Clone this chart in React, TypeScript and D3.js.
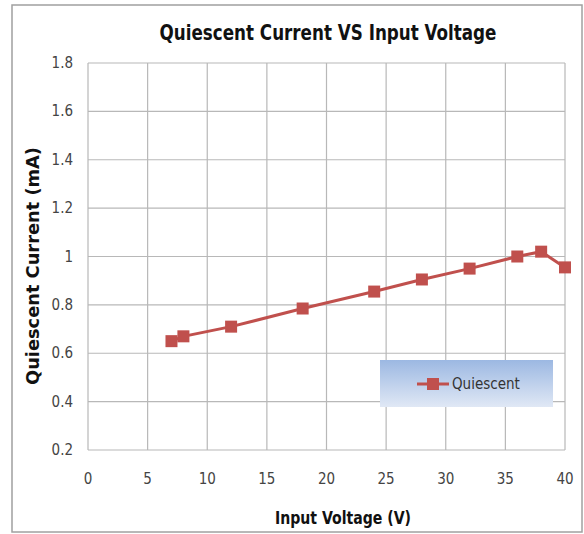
import React from 'react';
import * as d3 from 'd3';

// input voltage (V) and quiescent current (mA)
const voltage = [7, 8, 12, 18, 24, 28, 32, 36, 38, 40];
const current = [0.65, 0.67, 0.71, 0.785, 0.855, 0.905, 0.95, 1.0, 1.02, 0.955];
const xTicks = [0, 5, 10, 15, 20, 25, 30, 35, 40];
const yTicks = [0.2, 0.4, 0.6, 0.8, 1, 1.2, 1.4, 1.6, 1.8];
const seriesName = 'Quiescent';

const W = 584;
const H = 534;
const font = '"Liberation Sans Narrow", "DejaVu Sans Condensed", "Noto Sans", sans-serif';
const red = '#c0504d';

export default function App() {
  const x = d3.scaleLinear().domain([0, 40]).range([88, 565]);
  const y = d3.scaleLinear().domain([0.2, 1.8]).range([450, 63]);

  const line = d3.line<number>()
    .x((d, i) => x(voltage[i]))
    .y(d => y(d));

  const ms = 12;

  return (
    <svg width={W} height={H} style={{ position: 'absolute', left: 0, top: 0 }}>
      <defs>
        <linearGradient id="legendFill" x1="0" y1="0" x2="0" y2="1">
          <stop offset="0%" stopColor="#9cb8e2" />
          <stop offset="100%" stopColor="#e0e8f5" />
        </linearGradient>
      </defs>
      <rect x={0} y={0} width={W} height={H} fill="#fff" />
      <rect x={12} y={5} width={570} height={527} fill="#fff" stroke="#a0a0a0" strokeWidth={1.5} />

      <text x={328} y={40} textAnchor="middle" fontFamily={font} fontWeight="bold"
        fontSize={21} fill="#111" textLength={337} lengthAdjust="spacingAndGlyphs">
        Quiescent Current VS Input Voltage
      </text>

      {/* grid */}
      {yTicks.map(t => (
        <line key={'gy' + t} x1={x(0)} x2={x(40)} y1={y(t)} y2={y(t)} stroke="#b8b8b8" strokeWidth={1.2} />
      ))}
      {xTicks.map(t => (
        <line key={'gx' + t} x1={x(t)} x2={x(t)} y1={y(0.2)} y2={y(1.8)} stroke="#b8b8b8" strokeWidth={1.2} />
      ))}

      {/* tick labels */}
      {yTicks.map(t => (
        <text key={'ty' + t} x={73} y={y(t) + 5} textAnchor="end" fontFamily={font}
          fontSize={15} fill="#444">
          {d3.format('~g')(t)}
        </text>
      ))}
      {xTicks.map(t => (
        <text key={'tx' + t} x={x(t)} y={484} textAnchor="middle" fontFamily={font}
          fontSize={15} fill="#444">
          {t}
        </text>
      ))}

      {/* axis titles */}
      <text x={343} y={524} textAnchor="middle" fontFamily={font} fontWeight="bold"
        fontSize={18} fill="#111" textLength={136} lengthAdjust="spacingAndGlyphs">
        Input Voltage (V)
      </text>
      <text transform="translate(39,266) rotate(-90)" textAnchor="middle" fontFamily={font}
        fontWeight="bold" fontSize={17} fill="#111" textLength={238} lengthAdjust="spacingAndGlyphs">
        Quiescent Current (mA)
      </text>

      {/* series */}
      <path d={line(current) || ''} fill="none" stroke={red} strokeWidth={3} />
      {current.map((c, i) => (
        <rect key={'m' + i} x={x(voltage[i]) - ms / 2} y={y(c) - ms / 2} width={ms} height={ms} fill={red} />
      ))}

      {/* legend */}
      <rect x={380} y={360} width={173} height={47} fill="url(#legendFill)" />
      <line x1={417} x2={449} y1={384} y2={384} stroke={red} strokeWidth={3} />
      <rect x={427} y={378} width={12} height={12} fill={red} />
      <text x={452} y={389} fontFamily={font} fontSize={15} fill="#333">{seriesName}</text>
    </svg>
  );
}
